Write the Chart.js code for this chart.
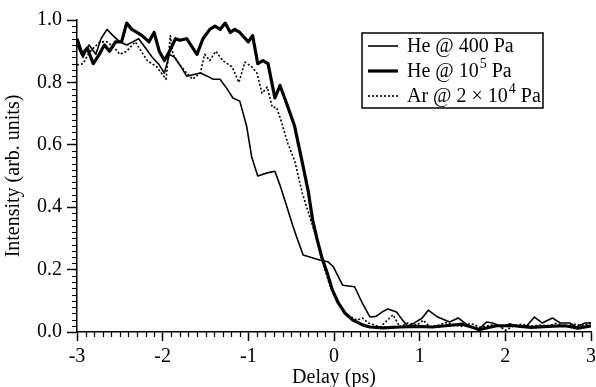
<!DOCTYPE html>
<html>
<head>
<meta charset="utf-8">
<script src="https://cdn.jsdelivr.net/npm/chart.js@4"></script>
<style>
    html, body { margin: 0; padding: 0; background: #fff; }
    #wrap { width: 596px; height: 387px; }
</style>
</head>
<body>
<div id="wrap"><canvas id="delayChart" width="596" height="387"></canvas></div>
<script>
// He @ 400 Pa (thin solid)
const heLowDelay = [-3.00, -2.93, -2.86, -2.78, -2.72, -2.65, -2.58, -2.50, -2.42, -2.35, -2.28, -2.20, -2.12, -2.05, -1.98, -1.92, -1.86, -1.80, -1.72, -1.56, -1.48, -1.41, -1.33, -1.25, -1.18, -1.10, -1.02, -0.96, -0.89, -0.78, -0.69, -0.63, -0.56, -0.48, -0.43, -0.36, -0.16, -0.07, -0.01, 0.10, 0.24, 0.33, 0.42, 0.49, 0.56, 0.63, 0.73, 0.80, 0.86, 0.94, 1.03, 1.10, 1.21, 1.35, 1.45, 1.56, 1.68, 1.78, 1.85, 1.96, 2.05, 2.17, 2.25, 2.34, 2.43, 2.55, 2.64, 2.75, 2.83, 2.93, 3.00]
const heLowIntensity = [0.92, 0.88, 0.92, 0.89, 0.94, 0.97, 0.95, 0.93, 0.92, 0.93, 0.94, 0.91, 0.88, 0.86, 0.83, 0.89, 0.88, 0.856, 0.82, 0.83, 0.82, 0.81, 0.81, 0.78, 0.75, 0.74, 0.66, 0.56, 0.50, 0.51, 0.515, 0.47, 0.41, 0.34, 0.30, 0.247, 0.23, 0.225, 0.21, 0.15, 0.145, 0.093, 0.048, 0.05, 0.064, 0.074, 0.064, 0.038, 0.019, 0.029, 0.045, 0.07, 0.048, 0.032, 0.045, 0.022, 0.006, 0.032, 0.029, 0.016, 0.026, 0.016, 0.019, 0.048, 0.029, 0.045, 0.029, 0.029, 0.016, 0.029, 0.029]

// He @ 10^5 Pa (thick solid)
const heHighDelay = [-3.00, -2.94, -2.88, -2.81, -2.74, -2.68, -2.62, -2.55, -2.48, -2.42, -2.36, -2.30, -2.24, -2.16, -2.10, -2.04, -1.98, -1.92, -1.85, -1.80, -1.72, -1.60, -1.53, -1.45, -1.39, -1.33, -1.27, -1.21, -1.16, -1.10, -1.00, -0.95, -0.89, -0.83, -0.77, -0.69, -0.63, -0.55, -0.46, -0.36, -0.30, -0.25, -0.20, -0.14, -0.08, -0.02, 0.05, 0.13, 0.22, 0.34, 0.42, 0.57, 0.77, 0.97, 1.15, 1.30, 1.50, 1.70, 1.90, 2.10, 2.30, 2.50, 2.70, 2.85, 3.00]
const heHighIntensity = [0.94, 0.89, 0.91, 0.86, 0.89, 0.92, 0.90, 0.93, 0.93, 0.99, 0.97, 0.96, 0.95, 0.93, 0.96, 0.90, 0.87, 0.90, 0.94, 0.935, 0.94, 0.89, 0.94, 0.97, 0.98, 0.97, 0.99, 0.96, 0.97, 0.96, 0.93, 0.95, 0.86, 0.87, 0.86, 0.75, 0.79, 0.73, 0.66, 0.53, 0.45, 0.36, 0.30, 0.237, 0.19, 0.135, 0.093, 0.06, 0.038, 0.022, 0.016, 0.013, 0.016, 0.018, 0.016, 0.02, 0.025, 0.008, 0.02, 0.02, 0.015, 0.018, 0.02, 0.012, 0.02]

// Ar @ 2x10^4 Pa (dotted)
const arDelay = [-3.00, -2.93, -2.87, -2.81, -2.73, -2.65, -2.56, -2.50, -2.42, -2.32, -2.18, -2.07, -1.96, -1.91, -1.88, -1.80, -1.72, -1.65, -1.56, -1.51, -1.45, -1.38, -1.30, -1.19, -1.11, -1.04, -0.96, -0.90, -0.84, -0.78, -0.72, -0.67, -0.61, -0.54, -0.46, -0.37, -0.25, -0.20, -0.13, -0.05, 0.05, 0.15, 0.27, 0.33, 0.40, 0.54, 0.65, 0.69, 0.77, 0.86, 0.97, 1.04, 1.12, 1.20, 1.30, 1.40, 1.50, 1.60, 1.70, 1.80, 1.90, 2.00, 2.10, 2.20, 2.30, 2.40, 2.50, 2.60, 2.70, 2.80, 2.90, 3.00]
const arIntensity = [0.856, 0.86, 0.89, 0.91, 0.93, 0.93, 0.91, 0.89, 0.90, 0.93, 0.87, 0.85, 0.81, 0.95, 0.89, 0.856, 0.83, 0.81, 0.83, 0.89, 0.87, 0.90, 0.87, 0.85, 0.80, 0.865, 0.85, 0.83, 0.765, 0.785, 0.72, 0.72, 0.67, 0.605, 0.55, 0.445, 0.34, 0.30, 0.22, 0.15, 0.096, 0.055, 0.038, 0.045, 0.029, 0.016, 0.045, 0.055, 0.016, 0.029, 0.022, 0.038, 0.016, 0.02, 0.03, 0.022, 0.018, 0.028, 0.015, 0.02, 0.025, 0.005, 0.02, 0.025, 0.018, 0.022, 0.02, 0.028, 0.018, 0.025, 0.02, 0.03]

const seriesLabels = ['He @ 400 Pa', 'He @ 10\u2075 Pa', 'Ar @ 2 \u00d7 10\u2074 Pa']
const xTicks = [-3, -2, -1, 0, 1, 2, 3]
const yTicks = [0.0, 0.2, 0.4, 0.6, 0.8, 1.0]

function toPoints(xs, ys) {
    return xs.map((x, i) => ({ x: x, y: ys[i] }))
}

Chart.defaults.font.family = "'Liberation Serif', 'Times New Roman', serif"
Chart.defaults.font.size = 20
Chart.defaults.color = '#000'

// minor tick marks, drawn through the scales
const minorTicks = {
    id: 'minorTicks',
    afterDraw(chart) {
        const { ctx, chartArea, scales } = chart
        ctx.save()
        ctx.strokeStyle = '#000'
        ctx.lineWidth = 1.2
        ctx.beginPath()
        for (let i = 0; i <= 60; i++) {
            if (i % 10 === 0) continue
            const px = Math.round(scales.x.getPixelForValue(-3 + i / 10)) + 0.5
            ctx.moveTo(px, chartArea.bottom)
            ctx.lineTo(px, chartArea.bottom + 5)
        }
        for (let i = 0; i <= 50; i++) {
            if (i % 10 === 0) continue
            const py = Math.round(scales.y.getPixelForValue(i / 50)) + 0.5
            ctx.moveTo(chartArea.left, py)
            ctx.lineTo(chartArea.left - 5, py)
        }
        ctx.stroke()
        ctx.restore()
    },
}

const supMap = { '\u2070': '0', '\u00b9': '1', '\u00b2': '2', '\u00b3': '3', '\u2074': '4', '\u2075': '5', '\u2076': '6', '\u2077': '7', '\u2078': '8', '\u2079': '9' }

function drawRichText(ctx, text, x, y) {
    let cx = x
    for (const ch of text) {
        if (supMap[ch]) {
            ctx.font = "14px 'Liberation Serif'"
            ctx.fillText(supMap[ch], cx + 1, y - 8)
            cx += ctx.measureText(supMap[ch]).width + 1
        } else {
            ctx.font = "20px 'Liberation Serif'"
            ctx.fillText(ch, cx, y)
            cx += ctx.measureText(ch).width
        }
    }
}

// framed legend in the upper right of the plot
const boxLegend = {
    id: 'boxLegend',
    afterDatasetsDraw(chart) {
        const { ctx } = chart
        const box = { left: 362, top: 33, width: 181, height: 75 }
        ctx.save()
        ctx.fillStyle = '#fff'
        ctx.fillRect(box.left, box.top, box.width, box.height)
        ctx.strokeStyle = '#000'
        ctx.lineWidth = 1.5
        ctx.strokeRect(box.left, box.top, box.width, box.height)
        chart.data.datasets.forEach((ds, i) => {
            const rowY = box.top + 13 + i * 25
            ctx.beginPath()
            ctx.lineWidth = ds.borderWidth
            ctx.setLineDash(ds.borderDash || [])
            ctx.moveTo(box.left + 6, rowY)
            ctx.lineTo(box.left + 36, rowY)
            ctx.stroke()
            ctx.setLineDash([])
            ctx.fillStyle = '#000'
            ctx.textBaseline = 'middle'
            drawRichText(ctx, ds.label, box.left + 45, rowY + 1)
        })
        ctx.restore()
    },
}

const config = {
    type: 'line',
    data: {
        datasets: [
            {
                label: seriesLabels[0],
                data: toPoints(heLowDelay, heLowIntensity),
                borderColor: '#000',
                borderWidth: 1.6,
            },
            {
                label: seriesLabels[1],
                data: toPoints(heHighDelay, heHighIntensity),
                borderColor: '#000',
                borderWidth: 3.2,
            },
            {
                label: seriesLabels[2],
                data: toPoints(arDelay, arIntensity),
                borderColor: '#000',
                borderWidth: 1.6,
                borderDash: [2, 2],
            },
        ],
    },
    options: {
        responsive: false,
        animation: false,
        events: [],
        elements: {
            point: { radius: 0 },
            line: { tension: 0, fill: false, borderJoinStyle: 'round' },
        },
        layout: { padding: { top: 20, right: 5, left: 0, bottom: 0 } },
        scales: {
            x: {
                type: 'linear',
                min: -3,
                max: 3,
                afterBuildTicks: (scale) => {
                    scale.ticks = xTicks.map((v) => ({ value: v }))
                },
                afterFit: (scale) => {
                    scale.height = 55
                    scale.paddingLeft = 0
                    scale.paddingRight = 0
                },
                ticks: {
                    padding: 4,
                    maxRotation: 0,
                    callback: (v) => String(v),
                },
                grid: {
                    drawOnChartArea: false,
                    drawTicks: true,
                    tickLength: 9,
                    tickColor: '#000',
                    tickWidth: 1.5,
                },
                border: { display: true, color: '#000', width: 1.5 },
                title: {
                    display: true,
                    text: 'Delay (ps)',
                    padding: { top: 0, bottom: -3 },
                },
            },
            y: {
                type: 'linear',
                min: 0,
                max: 1,
                afterBuildTicks: (scale) => {
                    scale.ticks = yTicks.map((v) => ({ value: v }))
                },
                afterFit: (scale) => {
                    scale.width = 77
                },
                ticks: {
                    padding: 5,
                    callback: (v) => v.toFixed(1),
                },
                grid: {
                    drawOnChartArea: false,
                    drawTicks: true,
                    tickLength: 10,
                    tickColor: '#000',
                    tickWidth: 1.5,
                },
                border: { display: true, color: '#000', width: 1.5 },
                title: {
                    display: true,
                    text: 'Intensity (arb. units)',
                    padding: { top: 2, bottom: 0 },
                },
            },
        },
        plugins: {
            legend: { display: false },
            tooltip: { enabled: false },
        },
    },
    plugins: [minorTicks, boxLegend],
}

new Chart(document.getElementById('delayChart').getContext('2d'), config)
</script>
</body>
</html>
